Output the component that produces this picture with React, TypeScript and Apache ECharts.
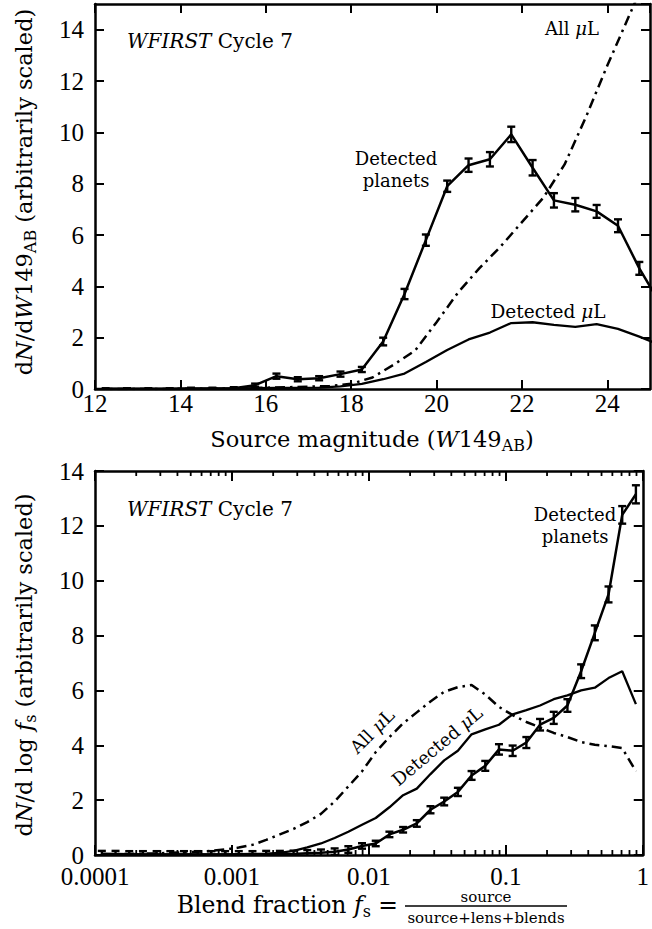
import React, { useEffect, useRef } from 'react';
import * as echarts from 'echarts';

// ---------- Top panel data (source magnitude W149_AB) ----------
const magBins = [12.25, 12.75, 13.25, 13.75, 14.25, 14.75, 15.25, 15.75, 16.25, 16.75, 17.25, 17.75, 18.25, 18.75, 19.25, 19.75, 20.25, 20.75, 21.25, 21.75, 22.25, 22.75, 23.25, 23.75, 24.25, 24.75, 25.25];
const planetsTop = [0.01, 0.01, 0.01, 0.01, 0.02, 0.02, 0.03, 0.15, 0.5, 0.38, 0.42, 0.58, 0.76, 1.85, 3.7, 5.8, 7.9, 8.72, 8.95, 9.92, 8.62, 7.35, 7.18, 6.92, 6.36, 4.7, 3.3];
const planetsTopErr = [0.02, 0.02, 0.02, 0.02, 0.03, 0.03, 0.04, 0.06, 0.1, 0.08, 0.08, 0.1, 0.1, 0.15, 0.2, 0.22, 0.22, 0.26, 0.28, 0.3, 0.3, 0.28, 0.26, 0.25, 0.25, 0.25, 0.25];
const detectedMuLTop = [0, 0, 0, 0, 0.01, 0.01, 0.02, 0.03, 0.04, 0.04, 0.05, 0.1, 0.2, 0.38, 0.6, 1.05, 1.52, 1.93, 2.2, 2.57, 2.6, 2.5, 2.42, 2.53, 2.34, 2.04, 1.7];
const allMuLMag = [12, 12.5, 13, 13.5, 14, 14.5, 15, 15.5, 16, 16.5, 17, 17.5, 18, 18.5, 19, 19.5, 20, 20.5, 21, 21.5, 22, 22.5, 23, 23.5, 24, 24.5, 25];
const allMuLTop = [0, 0, 0, 0, 0.01, 0.01, 0.02, 0.03, 0.05, 0.07, 0.09, 0.12, 0.2, 0.45, 0.95, 1.5, 2.6, 3.75, 4.7, 5.55, 6.5, 7.45, 8.75, 10.6, 12.6, 14.5, 16.4];
const magTickLabels = ['12', '14', '16', '18', '20', '22', '24'];

// ---------- Bottom panel data (blend fraction, log10 bin centres) ----------
const blendBinLog = [-3.95, -3.85, -3.75, -3.65, -3.55, -3.45, -3.35, -3.25, -3.15, -3.05, -2.95, -2.85, -2.75, -2.65, -2.55, -2.45, -2.35, -2.25, -2.15, -2.05, -1.95, -1.85, -1.75, -1.65, -1.55, -1.45, -1.35, -1.25, -1.15, -1.05, -0.95, -0.85, -0.75, -0.65, -0.55, -0.45, -0.35, -0.25, -0.15, -0.05];
const planetsBottom = [0.03, 0.03, 0.02, 0.02, 0.02, 0.02, 0.02, 0.02, 0.02, 0.02, 0.02, 0.02, 0.03, 0.03, 0.04, 0.06, 0.08, 0.12, 0.2, 0.33, 0.42, 0.75, 0.92, 1.15, 1.65, 1.95, 2.3, 2.9, 3.25, 3.85, 3.8, 4.1, 4.75, 5.0, 5.45, 6.7, 8.1, 9.5, 12.4, 13.15];
const planetsBottomErr = [0.12, 0.12, 0.12, 0.12, 0.12, 0.12, 0.12, 0.12, 0.12, 0.12, 0.12, 0.12, 0.12, 0.12, 0.12, 0.12, 0.12, 0.12, 0.12, 0.1, 0.1, 0.1, 0.1, 0.12, 0.13, 0.14, 0.15, 0.16, 0.18, 0.19, 0.19, 0.2, 0.21, 0.22, 0.23, 0.25, 0.27, 0.29, 0.32, 0.33];
const detectedMuLBottom = [0.05, 0.04, 0.03, 0.02, 0.02, 0.02, 0.02, 0.02, 0.02, 0.02, 0.03, 0.04, 0.05, 0.08, 0.15, 0.28, 0.42, 0.62, 0.85, 1.1, 1.35, 1.74, 2.18, 2.42, 2.95, 3.45, 3.8, 4.4, 4.58, 4.75, 5.13, 5.28, 5.45, 5.68, 5.82, 6.0, 6.1, 6.45, 6.7, 5.5];
const allMuLBottom = [0.02, 0.03, 0.04, 0.05, 0.06, 0.08, 0.1, 0.12, 0.15, 0.2, 0.27, 0.37, 0.55, 0.75, 0.95, 1.2, 1.5, 1.95, 2.5, 3.05, 3.75, 4.3, 4.8, 5.2, 5.6, 5.95, 6.12, 6.2, 5.85, 5.4, 5.1, 4.85, 4.65, 4.45, 4.3, 4.12, 4.02, 3.97, 3.9, 3.05];
const blendTickLabels = ['0.0001', '0.001', '0.01', '0.1', '1'];
const minorMantissas = [2, 3, 4, 5, 6, 7, 8, 9];
const decades = [-4, -3, -2, -1];

const SERIF = 'DejaVu Serif';
const NUMFONT = 'Liberation Serif';
const BLACK = '#000';

const frameLine = { show: true, onZero: false, lineStyle: { color: BLACK, width: 2.5 } };
const tickIn = (len: number) => ({ show: true, inside: true, length: len, lineStyle: { color: BLACK, width: 2 } });
const numLabel = (margin: number) => ({ show: true, color: BLACK, fontFamily: NUMFONT, fontSize: 25, margin });

function errorBars(xi: number, yi: number, xs: number[], ys: number[], es: number[]) {
  return {
    type: 'custom',
    xAxisIndex: xi,
    yAxisIndex: yi,
    clip: true,
    silent: true,
    z: 4,
    data: xs.map((x, i) => [x, ys[i], es[i]]),
    encode: { x: 0, y: 1 },
    renderItem: (params: any, api: any) => {
      const x = api.value(0);
      const y = api.value(1);
      const e = api.value(2);
      const lo = api.coord([x, y - e]);
      const hi = api.coord([x, y + e]);
      const c = 4;
      const st = { stroke: BLACK, lineWidth: 2.4 };
      return {
        type: 'group',
        children: [
          { type: 'line', shape: { x1: lo[0], y1: lo[1], x2: hi[0], y2: hi[1] }, style: st },
          { type: 'line', shape: { x1: lo[0] - c, y1: lo[1], x2: lo[0] + c, y2: lo[1] }, style: st },
          { type: 'line', shape: { x1: hi[0] - c, y1: hi[1], x2: hi[0] + c, y2: hi[1] }, style: st },
        ],
      };
    },
  };
}

function lineSeries(xi: number, yi: number, xs: number[], ys: number[], width: number, dash?: number[]) {
  return {
    type: 'line',
    xAxisIndex: xi,
    yAxisIndex: yi,
    symbol: 'none',
    silent: true,
    z: 3,
    data: xs.map((x, i) => [x, ys[i]]),
    lineStyle: { color: BLACK, width, type: dash ? dash : 'solid' },
  };
}

const minorTickValues: number[][] = [];
decades.forEach((d) => minorMantissas.forEach((m) => minorTickValues.push([m * Math.pow(10, d), 0])));

const minorTickSeries = {
  type: 'custom',
  xAxisIndex: 2,
  yAxisIndex: 2,
  silent: true,
  z: 5,
  data: minorTickValues,
  encode: { x: 0, y: 1 },
  renderItem: (params: any, api: any) => {
    const p = api.coord([api.value(0), 0]);
    const cs = params.coordSys;
    const st = { stroke: BLACK, lineWidth: 1.8 };
    return {
      type: 'group',
      children: [
        { type: 'line', shape: { x1: p[0], y1: cs.y + cs.height, x2: p[0], y2: cs.y + cs.height - 5 }, style: st },
        { type: 'line', shape: { x1: p[0], y1: cs.y, x2: p[0], y2: cs.y + 5 }, style: st },
      ],
    };
  },
};

const titleRich = (size: number) => ({
  r: { fontFamily: SERIF, fontSize: size, fill: BLACK },
  i: { fontFamily: SERIF, fontSize: size, fontStyle: 'italic', fill: BLACK },
  s: { fontFamily: SERIF, fontSize: Math.round(size * 0.7), fill: BLACK, padding: [12, 0, 0, 0] },
});

function txt(x: number, y: number, text: string, size: number, opts: any = {}) {
  return {
    type: 'text',
    x,
    y,
    rotation: opts.rotation || 0,
    silent: true,
    z: 10,
    style: {
      text,
      rich: titleRich(size),
      fontFamily: SERIF,
      fontSize: size,
      fill: BLACK,
      lineHeight: opts.lineHeight,
      align: opts.align || 'center',
      textAlign: opts.align || 'center',
      verticalAlign: 'middle',
      textVerticalAlign: 'middle',
    },
  };
}

const option: any = {
  animation: false,
  backgroundColor: '#fff',
  grid: [
    { left: 95, top: 4, width: 555, height: 385 },
    { left: 95, top: 471, width: 553, height: 384 },
  ],
  xAxis: [
    {
      gridIndex: 0, type: 'value', min: 12, max: 25, interval: 2, position: 'bottom',
      axisLine: frameLine, axisTick: tickIn(9),
      axisLabel: { ...numLabel(2), showMaxLabel: false, formatter: (v: number) => magTickLabels[Math.round((v - 12) / 2)] ?? '' },
      splitLine: { show: false },
    },
    {
      gridIndex: 0, type: 'value', min: 12, max: 25, interval: 2, position: 'top',
      axisLine: frameLine, axisTick: tickIn(9), axisLabel: { show: false }, splitLine: { show: false },
    },
    {
      gridIndex: 1, type: 'log', logBase: 10, min: 0.0001, max: 1, position: 'bottom',
      axisLine: frameLine, axisTick: tickIn(10),
      axisLabel: { ...numLabel(9), formatter: (v: number) => blendTickLabels[Math.round(Math.log10(v)) + 4] ?? '' },
      splitLine: { show: false },
    },
    {
      gridIndex: 1, type: 'log', logBase: 10, min: 0.0001, max: 1, position: 'top',
      axisLine: frameLine, axisTick: tickIn(10), axisLabel: { show: false }, splitLine: { show: false },
    },
  ],
  yAxis: [
    {
      gridIndex: 0, type: 'value', min: 0, max: 15, interval: 2, position: 'left',
      axisLine: frameLine, axisTick: tickIn(9), axisLabel: { ...numLabel(11), showMaxLabel: false }, splitLine: { show: false },
    },
    {
      gridIndex: 0, type: 'value', min: 0, max: 15, interval: 2, position: 'right',
      axisLine: frameLine, axisTick: tickIn(9), axisLabel: { show: false }, splitLine: { show: false },
    },
    {
      gridIndex: 1, type: 'value', min: 0, max: 14, interval: 2, position: 'left',
      axisLine: frameLine, axisTick: tickIn(9), axisLabel: { ...numLabel(11), padding: [0, 0, 10, 0] }, splitLine: { show: false },
    },
    {
      gridIndex: 1, type: 'value', min: 0, max: 14, interval: 2, position: 'right',
      axisLine: frameLine, axisTick: tickIn(9), axisLabel: { show: false }, splitLine: { show: false },
    },
  ],
  series: [
    lineSeries(0, 0, allMuLMag, allMuLTop, 2.5, [10, 5, 2.5, 5]),
    lineSeries(0, 0, magBins, detectedMuLTop, 2.3),
    lineSeries(0, 0, magBins, planetsTop, 2.5),
    errorBars(0, 0, magBins, planetsTop, planetsTopErr),
    lineSeries(2, 2, blendBinLog.map((c) => Math.pow(10, c)), allMuLBottom, 2.5, [10, 5, 2.5, 5]),
    lineSeries(2, 2, blendBinLog.map((c) => Math.pow(10, c)), detectedMuLBottom, 2.3),
    lineSeries(2, 2, blendBinLog.map((c) => Math.pow(10, c)), planetsBottom, 2.5),
    errorBars(2, 2, blendBinLog.map((c) => Math.pow(10, c)), planetsBottom, planetsBottomErr),
    minorTickSeries,
  ],
  graphic: [
    // top panel annotations
    txt(127, 41, '{i|WFIRST}{r| Cycle 7}', 20, { align: 'left' }),
    txt(396, 169, 'Detected\nplanets', 18, { lineHeight: 22 }),
    txt(572, 28, '{r|All }{i|μ}{r|L}', 18),
    txt(548, 311, '{r|Detected }{i|μ}{r|L}', 18.5),
    // bottom panel annotations
    txt(127, 509, '{i|WFIRST}{r| Cycle 7}', 20, { align: 'left' }),
    txt(575, 525, 'Detected\nplanets', 18, { lineHeight: 22 }),
    txt(372, 731, '{r|All }{i|μ}{r|L}', 18, { rotation: Math.PI / 4 }),
    txt(437, 746, '{r|Detected }{i|μ}{r|L}', 18, { rotation: 0.7 }),
    // axis titles
    txt(24, 192, '{r|d}{i|N}{r|/d}{i|W}{r|149}{s|AB}{r| (arbitrarily scaled)}', 22.5, { rotation: Math.PI / 2 }),
    txt(372, 439, '{r|Source magnitude (}{i|W}{r|149}{s|AB}{r|)}', 22.5),
    txt(24, 665, '{r|d}{i|N}{r|/d log }{i|f}{s|s}{r| (arbitrarily scaled)}', 22.5, { rotation: Math.PI / 2 }),
    txt(398, 905, '{r|Blend fraction }{i|f}{s|s}{r| =}', 23.5, { align: 'right' }),
    txt(486, 897, '{r|source}', 15),
    txt(486, 918, '{r|source+lens+blends}', 15),
    {
      type: 'line', silent: true, z: 10,
      shape: { x1: 405, y1: 906, x2: 567, y2: 906 },
      style: { stroke: BLACK, lineWidth: 1.5 },
    },
  ],
};

export default function App() {
  const ref = useRef<HTMLDivElement>(null);
  useEffect(() => {
    const chart = echarts.init(ref.current as HTMLDivElement, null, { renderer: 'svg' });
    chart.setOption(option);
    return () => chart.dispose();
  }, []);
  return <div ref={ref} style={{ position: 'fixed', left: 0, top: 0, width: 652, height: 929 }} />;
}
